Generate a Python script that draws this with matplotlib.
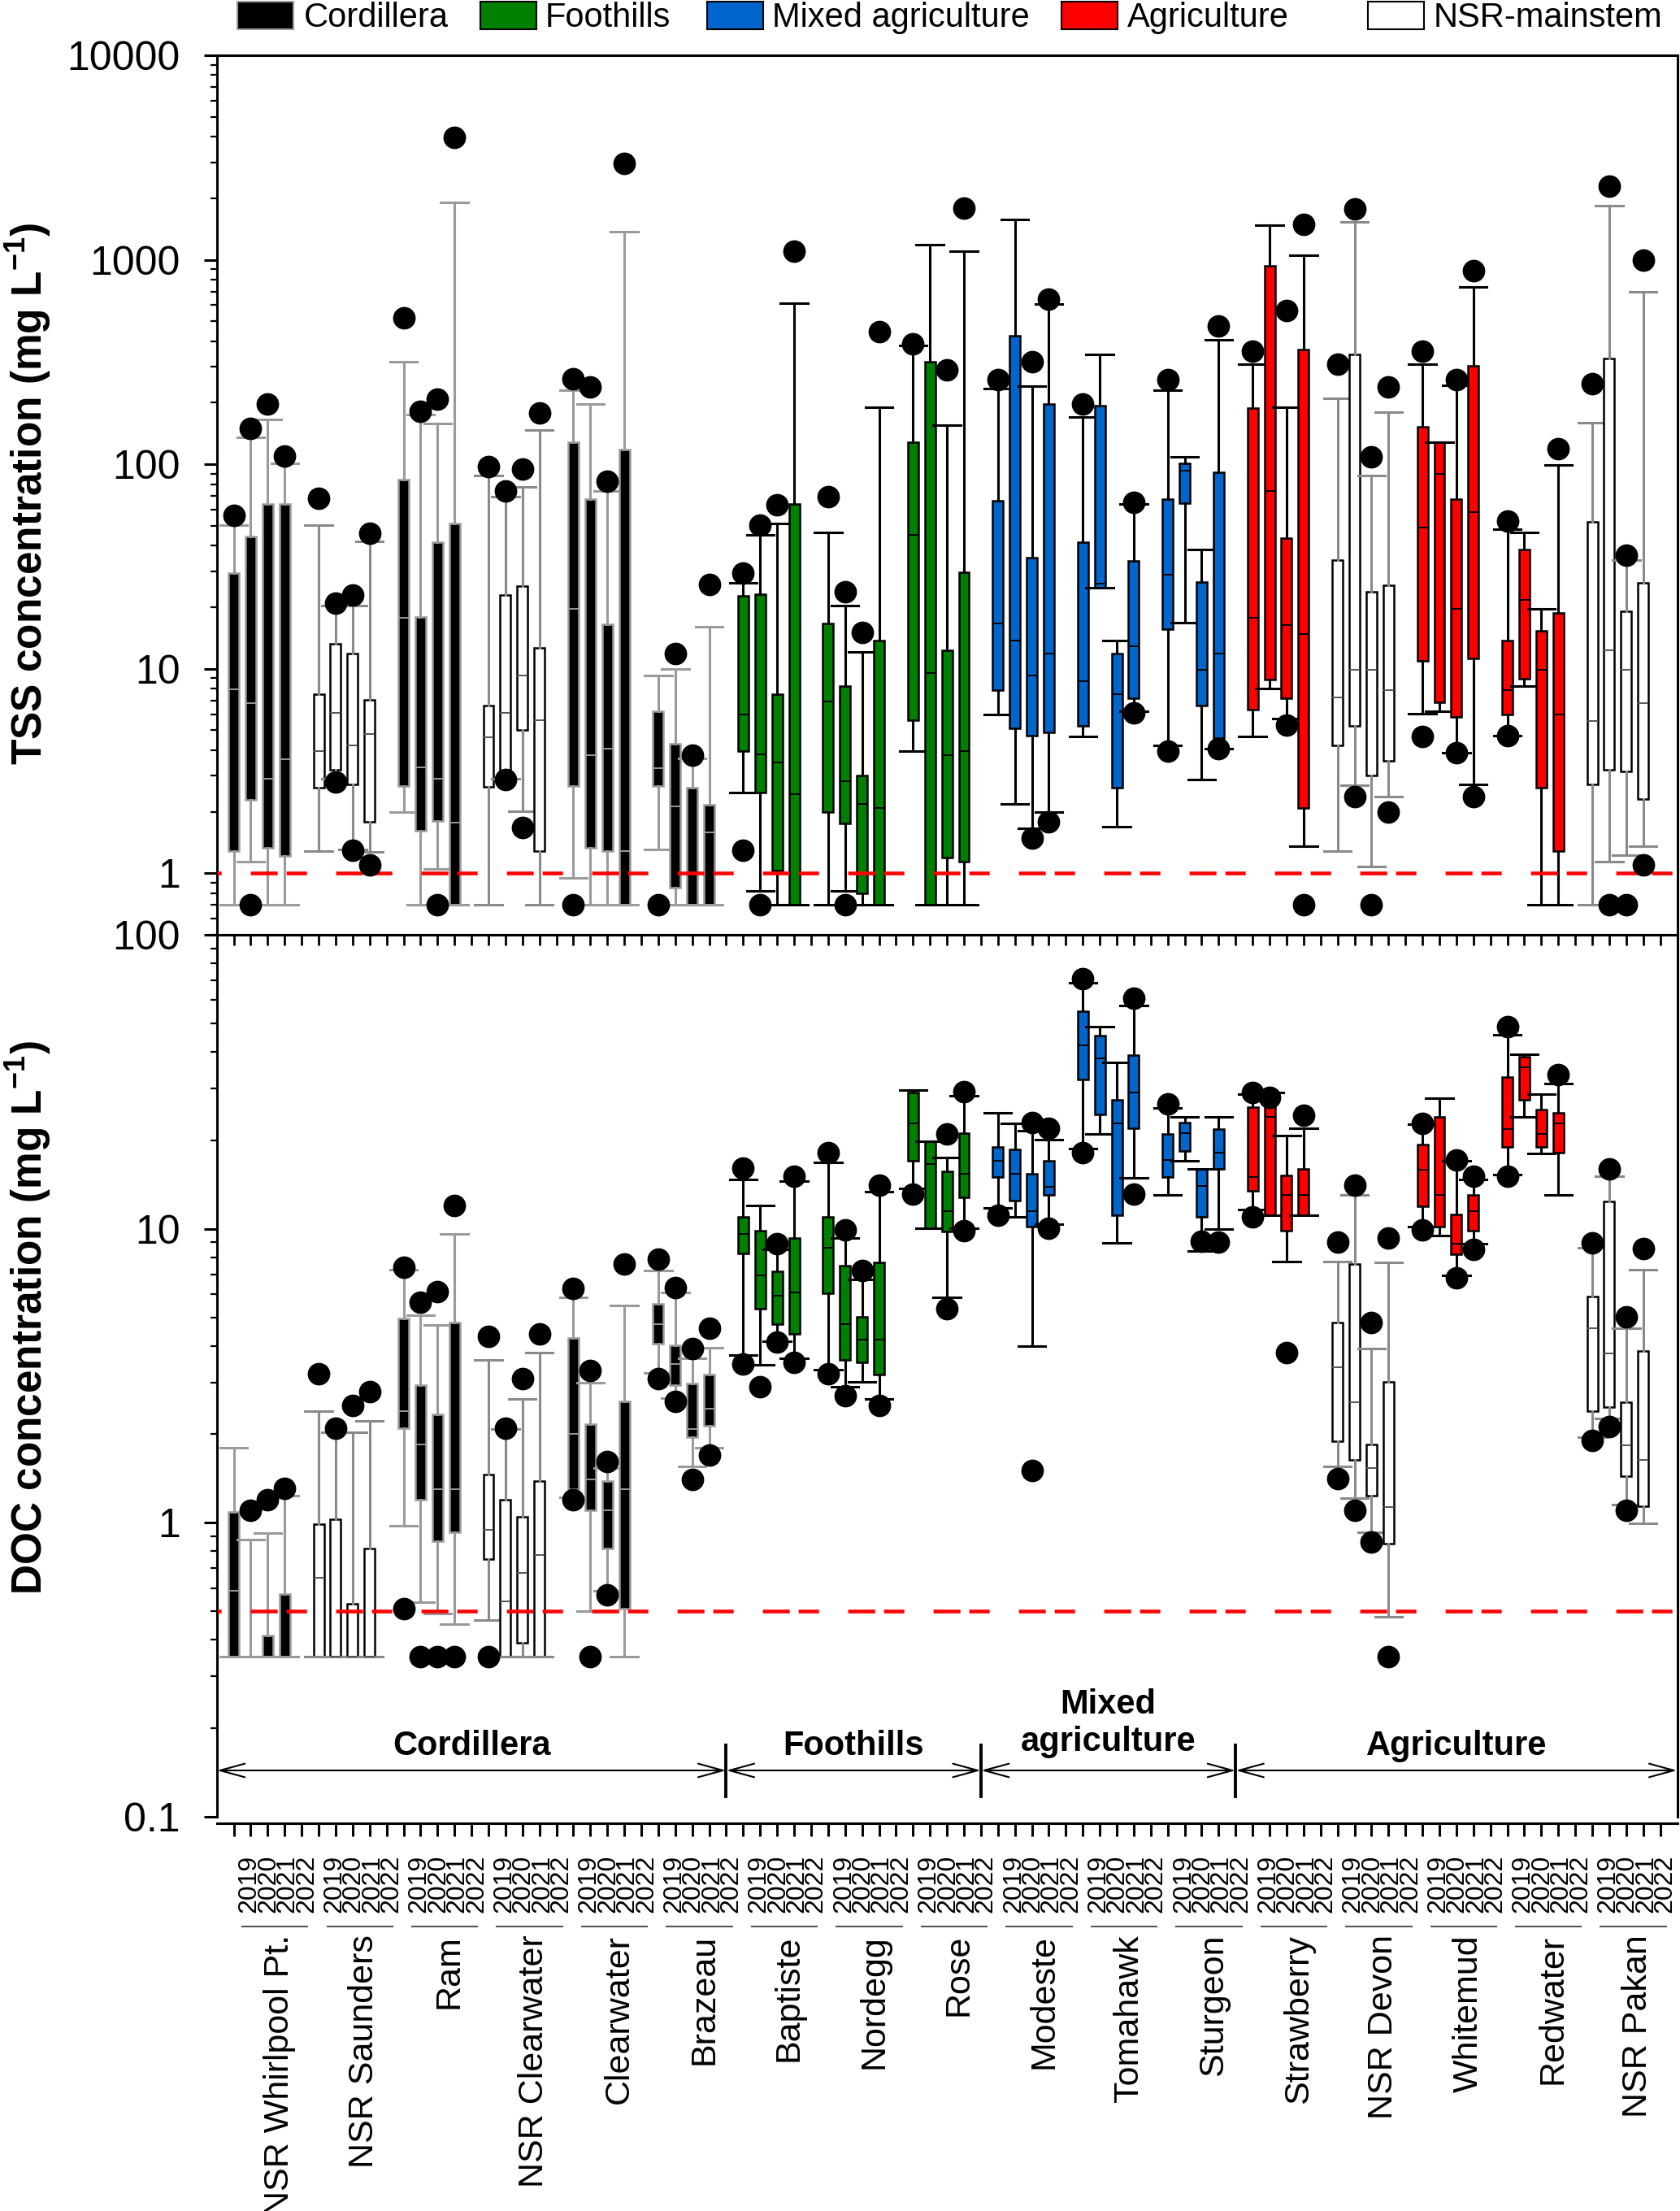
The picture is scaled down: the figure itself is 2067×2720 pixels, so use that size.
import matplotlib
matplotlib.use("Agg")
import matplotlib.pyplot as plt
import matplotlib.transforms as mtransforms
from matplotlib.patches import Rectangle
from matplotlib.lines import Line2D
from matplotlib.ticker import FixedLocator, LogLocator, FuncFormatter, NullFormatter
import numpy as np

plt.rcParams['font.family'] = ['Liberation Sans', 'DejaVu Sans']
plt.rcParams['mathtext.fontset'] = 'custom'
plt.rcParams['mathtext.rm'] = 'Liberation Sans'
plt.rcParams['mathtext.bf'] = 'Liberation Sans:bold'
plt.rcParams['lines.scale_dashes'] = False

# ---- data ----
sites = ["NSR Whirlpool Pt.", "NSR Saunders", "Ram", "NSR Clearwater", "Clearwater",
         "Brazeau", "Baptiste", "Nordegg", "Rose", "Modeste", "Tomahawk", "Sturgeon",
         "Strawberry", "NSR Devon", "Whitemud", "Redwater", "NSR Pakan"]
site_class = ["cord", "nsr", "cord", "nsr", "cord", "cord", "foot", "foot", "foot",
              "mixed", "mixed", "mixed", "ag", "nsr", "ag", "ag", "nsr"]
years = ["2019", "2020", "2021", "2022"]
regions = ["Cordillera", "Foothills", "Mixed\nagriculture", "Agriculture"]
legend_labels = ["Cordillera", "Foothills", "Mixed agriculture", "Agriculture", "NSR-mainstem"]

# TSS (mg/L), rows = sites, columns = 2019..2022
tss_lo = [[0.7, 1.14, 0.7, 0.7], [1.28, 2.9, 1.31, 1.27], [1.99, 0.7, 1.05, 0.7],
          [0.7, 2.9, 2.01, 0.7], [0.95, 0.7, 0.7, 0.7], [1.31, 0.7, 0.7, 0.7],
          [2.48, 0.82, 0.7, 0.7], [0.7, 0.82, 0.7, 0.7], [3.94, 0.7, 0.7, 0.7],
          [5.98, 2.19, 1.66, 1.99], [4.66, 25, 1.69, 6.21], [4.23, 16.8, 2.88, 4.07],
          [4.66, 8.03, 5.72, 1.35], [1.28, 2.7, 1.08, 2.36], [6.02, 6.21, 3.89, 2.73],
          [4.72, 8.24, 0.7, 0.7], [0.7, 1.14, 1.23, 1.35]]
tss_q1 = [[1.28, 2.29, 1.33, 1.21], [2.62, 3.21, 2.72, 1.79], [2.68, 1.61, 1.80, 0.7],
          [2.65, 3.17, 5.03, 1.28], [2.68, 1.33, 1.28, 0.7], [2.68, 0.85, 0.7, 0.7],
          [3.94, 2.48, 1.03, 0.7], [1.99, 1.75, 0.80, 0.7], [5.6, 0.7, 1.19, 1.14],
          [7.88, 5.13, 4.72, 4.87], [5.26, 25, 2.62, 7.16], [15.6, 64.5, 6.58, 4.57],
          [6.3, 8.85, 7.16, 2.08], [4.23, 5.26, 3.01, 3.53], [10.9, 6.84, 5.79, 11.2],
          [5.98, 8.96, 2.62, 1.28], [2.73, 3.21, 3.15, 2.3]]
tss_med = [[7.9, 6.8, 2.9, 3.6], [3.94, 6.06, 4.2, 4.78], [17.8, 3.3, 2.9, 1.77],
           [4.63, 6.06, 9.25, 5.6], [19.7, 3.77, 4.07, 1.28], [3.27, 2.12, 0.7, 1.59],
           [5.98, 3.82, 3.47, 2.44], [6.93, 2.82, 2.19, 2.08], [45, 9.55, 3.77, 3.94],
           [16.7, 13.8, 9.25, 11.9], [8.67, 26, 7.53, 12.9], [28.8, 93, 9.86, 11.9],
           [17.8, 74.3, 16.3, 14.8], [7.25, 9.86, 9.86, 7.88], [49, 90, 19.7, 58.6],
           [7.88, 21.7, 9.86, 5.98], [5.54, 12.3, 9.86, 6.8]]
tss_q3 = [[29.3, 44.5, 64, 64], [7.5, 13.3, 11.9, 7.06], [84.5, 17.9, 41.5, 51.2],
          [6.62, 23, 25.3, 12.7], [128, 67.4, 16.5, 118], [6.21, 4.28, 2.62, 2.16],
          [22.7, 23.1, 7.48, 64], [16.7, 8.24, 3.01, 13.8], [128, 318, 12.3, 29.7],
          [66.2, 425, 34.8, 197], [41.5, 194, 11.9, 33.7], [67.4, 101, 26.6, 91.2],
          [188, 934, 43.6, 364], [34, 344, 23.9, 25.5], [153, 128, 67.4, 304],
          [13.8, 38.4, 15.3, 18.7], [52.2, 329, 19.1, 26.3]]
tss_hi = [[50.6, 136, 166, 101], [50.6, 20.3, 20.3, 42], [318, 175, 158, 1916],
          [88.3, 69.7, 77.6, 147], [231, 198, 74.3, 1373], [9.25, 10, 3.63, 16],
          [26.3, 45, 51.5, 612], [46.5, 20.3, 12.1, 190], [381, 1184, 155, 1097],
          [235, 1581, 242, 608], [171, 344, 13.8, 64], [231, 109, 38.4, 406],
          [308, 1483, 190, 1050], [211, 1530, 88.3, 180], [308, 128, 243, 738],
          [48, 46.5, 19.7, 99], [160, 1832, 33.9, 700]]
tss_dot_hi = [[56, 150, 198, 110], [68, 20.9, 23, 46], [518, 182, 208, 3950],
              [97, 73.8, 94.8, 179], [262, 239, 82.8, 2965], [None, 11.9, 3.77, 25.8],
              [29.3, 50.6, 63.3, 1097], [69.2, 23.7, 15, 447], [388, None, 289, 1796],
              [259, None, 318, 644], [198, None, None, 65.3], [259, None, None, 476],
              [357, None, 567, 1493], [308, 1774, 109, 239], [357, None, 259, 888],
              [52.9, None, None, 119], [248, 2290, 36, 995]]
tss_dot_lo = [[None, 0.7, None, None], [None, 2.79, 1.29, 1.10], [None, None, 0.7, None],
              [None, 2.88, 1.68, None], [0.7, None, None, None], [0.7, None, None, None],
              [1.29, 0.7, None, None], [None, 0.7, None, None], [None, None, None, None],
              [None, None, 1.49, 1.78], [None, None, None, 6.1], [3.97, None, None, 4.07],
              [None, None, 5.3, 0.7], [None, 2.38, 0.7, 1.99], [4.66, None, 3.89, 2.38],
              [4.72, None, None, None], [None, 0.7, 0.7, 1.10]]

# DOC (mg/L)
doc_lo = [[0.35, 0.35, 0.35, 0.35], [0.35, 0.35, 0.35, 0.35], [0.98, 0.537, 0.49, 0.453],
          [0.467, 0.35, 0.35, 0.35], [1.22, 0.5, 0.587, 0.35], [3.24, 2.65, 1.55, 1.80],
          [3.71, 3.44, 4.15, 3.63], [3.31, 2.90, 3.01, 2.63], [13.7, 10.07, 5.86, 10.07],
          [11.8, 11.0, 4.0, 10.4], [18.7, 21.0, 8.96, 14.9], [13.0, 17.0, 8.38, 10.0],
          [11.6, 11.1, 7.76, 11.1], [1.55, 1.21, 0.927, 0.478], [10.2, 9.49, 6.94, 8.88],
          [15.3, 24.0, 18.0, 13.0], [1.96, 2.27, 1.15, 0.996]]
doc_q1 = [[0.35, 0.35, 0.35, 0.35], [0.35, 0.35, 0.35, 0.35], [2.10, 1.20, 0.867, 0.927],
          [0.751, 0.35, 0.391, 0.35], [1.30, 1.10, 0.818, 0.51], [4.06, 2.94, 1.96, 2.14],
          [8.26, 5.35, 4.75, 4.38], [6.02, 3.59, 3.52, 3.20], [17.0, 10.07, 9.8, 12.8],
          [15.0, 12.5, 10.2, 13.0], [32.1, 24.5, 11.1, 22.0], [15.0, 18.4, 11.0, 16.0],
          [13.5, 11.1, 9.84, 11.1], [1.90, 1.64, 1.24, 0.848], [11.9, 10.2, 8.19, 9.84],
          [19.0, 27.5, 19.0, 18.2], [2.40, 2.48, 1.44, 1.14]]
doc_med = [[0.587, 0.35, 0.35, 0.35], [0.648, 0.35, 0.35, 0.35], [2.39, 1.85, 1.30, 1.30],
           [0.948, 0.542, 0.677, 0.775], [2.0, 1.40, 1.10, 1.30], [4.75, 3.47, 2.09, 2.45],
           [9.58, 6.94, 5.93, 6.07], [8.6, 4.75, 4.19, 4.19], [22.9, 16.6, 11.5, 15.4],
           [17.0, 15.4, 11.5, 13.9], [42, 38, 22.9, 29.1], [17.1, 21.2, 14.0, 18.2],
           [15.0, 24.0, 13.0, 13.0], [3.39, 2.57, 1.54, 1.13], [15.9, 13.0, 8.88, 11.5],
           [21.9, 35.5, 21.0, 22.9], [4.58, 3.76, 1.84, 1.64]]
doc_q3 = [[1.09, 0.35, 0.414, 0.574], [0.99, 1.03, 0.53, 0.818], [4.96, 2.94, 2.34, 4.79],
          [1.46, 1.20, 1.05, 1.39], [4.24, 2.16, 1.39, 2.58], [5.55, 4.02, 2.97, 3.19],
          [11.0, 9.84, 7.16, 9.29], [10.96, 7.49, 5.03, 7.69], [29.1, 19.9, 15.7, 21.2],
          [19.0, 18.6, 15.4, 17.0], [54.8, 45.5, 27.4, 38.9], [21.0, 23.0, 16.0, 21.9],
          [26.0, 26.9, 15.2, 16.0], [4.79, 7.59, 1.85, 3.01], [19.4, 24.0, 11.2, 13.0],
          [32.9, 38.5, 25.4, 24.8], [5.89, 12.4, 2.57, 3.83]]
doc_hi = [[1.80, 0.875, 0.92, 1.24], [2.39, 2.03, 2.03, 2.22], [7.26, 5.08, 4.70, 9.62],
          [3.59, 2.09, 2.63, 3.79], [5.86, 2.99, 1.54, 5.5], [7.19, 6.07, 3.63, 3.93],
          [14.7, 12.0, 8.49, 14.5], [16.8, 9.29, 6.73, 13.4], [29.7, 19.9, 17.5, 28.4],
          [24.8, 22.9, 21.5, 20.1], [68.6, 48.6, 36.8, 57.4], [25.8, 24.0, 16.0, 24.0],
          [28.8, 29.0, 20.8, 22.0], [7.76, 13.0, 3.92, 7.69], [22.7, 27.8, 17.0, 14.7],
          [45.8, 39.2, 28.8, 31.1], [8.6, 15.1, 4.58, 7.26]]
doc_dot_hi = [[None, 1.10, 1.20, 1.31], [3.21, 2.10, 2.50, 2.80], [7.42, 5.62, 6.12, 12.0],
              [4.30, 2.10, 3.10, 4.40], [6.26, 3.29, 1.62, 7.59], [7.87, 6.29, 3.92, 4.60],
              [16.1, None, 8.88, 15.1], [18.2, 9.93, 7.19, 14.1], [None, None, 21.0, 29.3],
              [None, None, 23.0, 22.0], [71, None, None, 60.8], [26.6, None, None, None],
              [29.0, 28.0, None, 24.3], [9.0, 14.1, 4.81, 9.29], [22.9, None, 17.1, 15.1],
              [48.6, None, None, 33.5], [8.96, 16.0, 5.01, 8.57]]
doc_dot_lo = [[None, None, None, None], [None, None, None, None], [0.51, 0.35, 0.35, 0.35],
              [0.35, None, None, None], [1.20, 0.35, 0.567, None], [3.10, 2.59, 1.40, 1.70],
              [3.47, 2.90, 4.12, 3.52], [3.21, 2.71, None, 2.50], [13.1, None, 5.35, 9.84],
              [11.1, None, 1.51, 10.07], [18.2, None, None, 13.1], [None, None, 9.08, 9.0],
              [11.0, None, 3.79, None], [1.41, 1.10, 0.859, 0.35], [9.93, None, 6.79, 8.49],
              [15.1, None, None, None], [1.91, 2.12, 1.10, None]]

tss_limit = 1.0
doc_limit = 0.5

# ---- styles ----
face = {"cord": "black", "foot": "#008000", "mixed": "#0066cc", "ag": "#ff0000", "nsr": "white"}
edge = {"cord": "#9a9a9a", "foot": "black", "mixed": "black", "ag": "black", "nsr": "black"}
whisk = {"cord": "#9a9a9a", "foot": "black", "mixed": "black", "ag": "black", "nsr": "#8a8a8a"}
medc = {"cord": "#9a9a9a", "foot": "black", "mixed": "black", "ag": "black", "nsr": "#555555"}

W, H = 2067, 2720
fig = plt.figure(figsize=(W / 100, H / 100), dpi=100)


def fx(px):
    return px / W


def fy(py):
    return 1 - py / H


x_left, x_right = 266.7, 2063.5
ax1 = fig.add_axes([fx(x_left), fy(1150), fx(x_right) - fx(x_left), fy(68) - fy(1150)])
ax2 = fig.add_axes([fx(x_left), fy(2235), fx(x_right) - fx(x_left), fy(1150) - fy(2235)])
ax2.set_facecolor("none")


def draw_panel(ax, lo, q1, med, q3, hi, dhi, dlo, limit, ylim, majors):
    for i in range(len(sites)):
        c = site_class[i]
        stats = []
        for j in range(4):
            fl = [v for v in (dhi[i][j], dlo[i][j]) if v is not None]
            stats.append(dict(whislo=lo[i][j], q1=q1[i][j], med=med[i][j],
                              q3=q3[i][j], whishi=hi[i][j], fliers=fl))
        pos = [5 * i + 1 + j for j in range(4)]
        res = ax.bxp(stats, positions=pos, widths=0.62, capwidths=1.6,
                     patch_artist=True, manage_ticks=False,
                     boxprops=dict(facecolor=face[c], edgecolor=edge[c], linewidth=1.8),
                     whiskerprops=dict(color=whisk[c], linewidth=2.2),
                     capprops=dict(color=whisk[c], linewidth=2.2),
                     medianprops=dict(color=medc[c], linewidth=1.4),
                     flierprops=dict(marker="o", markerfacecolor="black",
                                     markeredgecolor="black", markersize=19, linestyle="none"),
                     zorder=2)
        for f in res["fliers"]:
            f.set_zorder(4)

    ax.plot([0, 86], [limit, limit], color="red", lw=3.3, zorder=3,
            linestyle=(46, (23.8, 7.9, 18.0, 25.9)))

    ax.set_yscale("log")
    ax.set_ylim(*ylim)
    ax.set_xlim(0, 86)
    ax.yaxis.set_major_locator(FixedLocator(majors))
    ax.yaxis.set_major_formatter(FuncFormatter(lambda v, p: "%g" % v))
    ax.yaxis.set_minor_locator(LogLocator(base=10, subs=np.arange(2, 10), numticks=30))
    ax.yaxis.set_minor_formatter(NullFormatter())
    ax.tick_params(axis="y", which="major", direction="out", length=11.5, width=2.2,
                   labelsize=36, pad=21)
    ax.tick_params(axis="y", which="minor", direction="out", length=6, width=1.6)
    ax.set_xticks(np.arange(1, 86))
    for sp in ax.spines.values():
        sp.set_linewidth(2.2)


draw_panel(ax1, tss_lo, tss_q1, tss_med, tss_q3, tss_hi, tss_dot_hi, tss_dot_lo,
           tss_limit, (0.5, 10000), [1, 10, 100, 1000, 10000])
draw_panel(ax2, doc_lo, doc_q1, doc_med, doc_q3, doc_hi, doc_dot_hi, doc_dot_lo,
           doc_limit, (0.1, 100), [0.1, 1, 10, 100])

ax1.tick_params(axis="x", direction="out", length=9, width=2, labelbottom=False)
ax2.tick_params(axis="x", direction="out", length=11.5, width=2.2, labelbottom=False)
ax2.spines["bottom"].set_position(("outward", 5.8))

# y-axis titles
fig.text(fx(35), fy(607), "TSS concentration (mg L$^{\\mathbf{-1}}$)", rotation=90,
         fontsize=37, fontweight="bold", ha="center", va="center")
fig.text(fx(35), fy(1621), "DOC concentration (mg L$^{\\mathbf{-1}}$)", rotation=90,
         fontsize=37, fontweight="bold", ha="center", va="center")

# region arrows inside the lower panel
blend = mtransforms.blended_transform_factory(ax2.transData, ax2.transAxes)
bounds = [0, 30, 45, 60, 86]
y_arrow = (2235 - 2178) / 1085
for k, name in enumerate(regions):
    x0, x1 = bounds[k], bounds[k + 1]
    ax2.annotate("", xy=(x1, y_arrow), xytext=(x0, y_arrow), xycoords=blend,
                 textcoords=blend, annotation_clip=False,
                 arrowprops=dict(arrowstyle="<->,head_length=1.1,head_width=0.3",
                                 mutation_scale=20, lw=1.5, color="black",
                                 shrinkA=0, shrinkB=0))
    ycen = (2235 - 2148) / 1085 if "\n" not in name else (2235 - 2120) / 1085
    ax2.text((x0 + x1) / 2, ycen, name, transform=blend, ha="center", va="center",
             fontsize=30, fontweight="bold", linespacing=1.2)
for xd in bounds[1:-1]:
    ax2.plot([xd, xd], [(2235 - 2147) / 1085, (2235 - 2210) / 1085], transform=blend,
             color="black", lw=2.8, clip_on=False)

# year and site labels below the axis
fblend = mtransforms.blended_transform_factory(ax2.transData, fig.transFigure)
for i, name in enumerate(sites):
    for j, yr in enumerate(years):
        fig.text(5 * i + 1.92 + 1.12 * j, fy(2317), yr, transform=fblend, rotation=90,
                 ha="center", va="center", fontsize=23)
    fig.add_artist(Line2D([5 * i + 1.5, 5 * i + 5.35], [fy(2370), fy(2370)],
                          transform=fblend, color="#555555", lw=1.5))
    fig.text(5 * i + 3.7, fy(2380), name, transform=fblend, rotation=90,
             ha="center", va="top", fontsize=31)

# legend across the top
leg_x = [(292, 374), (591, 671), (870, 950), (1306, 1387), (1683, 1764)]
leg_face = [face["cord"], face["foot"], face["mixed"], face["ag"], face["nsr"]]
leg_edge = ["#9a9a9a", "black", "black", "black", "black"]
for (x0, xt), lab, fc, ec in zip(leg_x, legend_labels, leg_face, leg_edge):
    fig.add_artist(Rectangle((fx(x0), fy(36)), fx(x0 + 69) - fx(x0), fy(2) - fy(36),
                             transform=fig.transFigure, facecolor=fc, edgecolor=ec, lw=1.5))
    fig.text(fx(xt), fy(33), lab, ha="left", va="baseline", fontsize=30)

fig.savefig("out.png", dpi=100)
